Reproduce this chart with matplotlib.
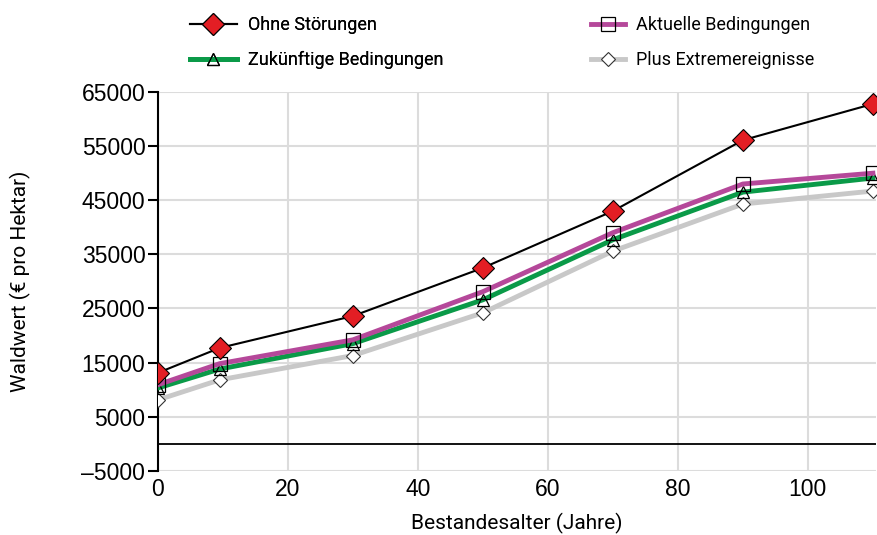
import numpy as np
import matplotlib.pyplot as plt
from matplotlib import font_manager

# Bestandesalter (Jahre)
alter = [0, 9.5, 30, 50, 70, 90, 110]

# Waldwert (EUR pro Hektar)
ohne_stoerungen = [13100, 17700, 23600, 32500, 43000, 56100, 62800]
aktuelle = [10900, 14800, 19200, 28100, 39000, 48000, 50000]
zukuenftige = [10300, 13800, 18500, 26600, 37700, 46500, 49100]
extreme = [8100, 11800, 16300, 24200, 35600, 44300, 46700]

y_ticks = [-5000, 5000, 15000, 25000, 35000, 45000, 55000, 65000]
x_ticks = [0, 20, 40, 60, 80, 100]

names = {f.name for f in font_manager.fontManager.ttflist}
narrow = 'Liberation Sans Narrow' if 'Liberation Sans Narrow' in names else 'Roboto'
cond = [narrow, 'DejaVu Sans']
plt.rcParams['font.family'] = ['Liberation Sans', 'DejaVu Sans']

fig = plt.figure(figsize=(8.77, 5.35), dpi=100)
ax = fig.add_axes([0.180, 0.120, 0.819, 0.708])

ax.plot(alter, extreme, color='#c8c8c8', lw=3.5, marker='D', ms=7,
        mfc='white', mec='#333333', mew=0.8, label='Plus Extremereignisse', zorder=3)
ax.plot(alter, zukuenftige, color='#0a9a48', lw=3.5, marker='^', ms=9,
        mfc='none', mec='black', mew=0.9, label='Zukünftige Bedingungen', zorder=4)
ax.plot(alter, aktuelle, color='#b5489a', lw=3.5, marker='s', ms=10,
        mfc='none', mec='black', mew=0.9, label='Aktuelle Bedingungen', zorder=5)
ax.plot(alter, ohne_stoerungen, color='black', lw=1.5, marker='D', ms=11,
        mfc='#e31e24', mec='black', mew=0.8, label='Ohne Störungen', zorder=6)

ax.axhline(0, color='black', lw=1.3, zorder=2)

ax.set_xlim(0, 110.5)
ax.set_ylim(-5000, 65000)
ax.set_xticks(x_ticks)
ax.set_yticks(y_ticks)
ax.set_yticklabels([str(v).replace('-', '\u2013') for v in y_ticks])
ax.grid(True, color='#dcdcdc', lw=1.5, zorder=0)
ax.set_axisbelow(True)

for s in ['top', 'right', 'bottom']:
    ax.spines[s].set_visible(False)
ax.spines['left'].set_linewidth(1.5)
ax.tick_params(axis='y', length=7, width=1.5, labelsize=16.5, pad=2)
ax.tick_params(axis='x', length=0, labelsize=16.5, pad=5)

ax.set_xlabel('Bestandesalter (Jahre)', fontsize=15, family=cond, labelpad=9)
ax.set_ylabel('Waldwert (€ pro Hektar)', fontsize=15, family=cond, labelpad=36)

h, l = ax.get_legend_handles_labels()
prop = {'family': cond, 'size': 13}
leg1 = fig.legend([h[3], h[1]], [l[3], l[1]], loc='upper left',
                  bbox_to_anchor=(0.198, 1.0), frameon=False, prop=prop,
                  handlelength=2.6, handletextpad=0.6, labelspacing=0.95)
fig.add_artist(leg1)
fig.legend([h[2], h[0]], [l[2], l[0]], loc='upper left',
           bbox_to_anchor=(0.655, 1.0), frameon=False, prop=prop,
           handlelength=1.9, handletextpad=0.6, labelspacing=0.95)

fig.savefig('out.png', dpi=100)
